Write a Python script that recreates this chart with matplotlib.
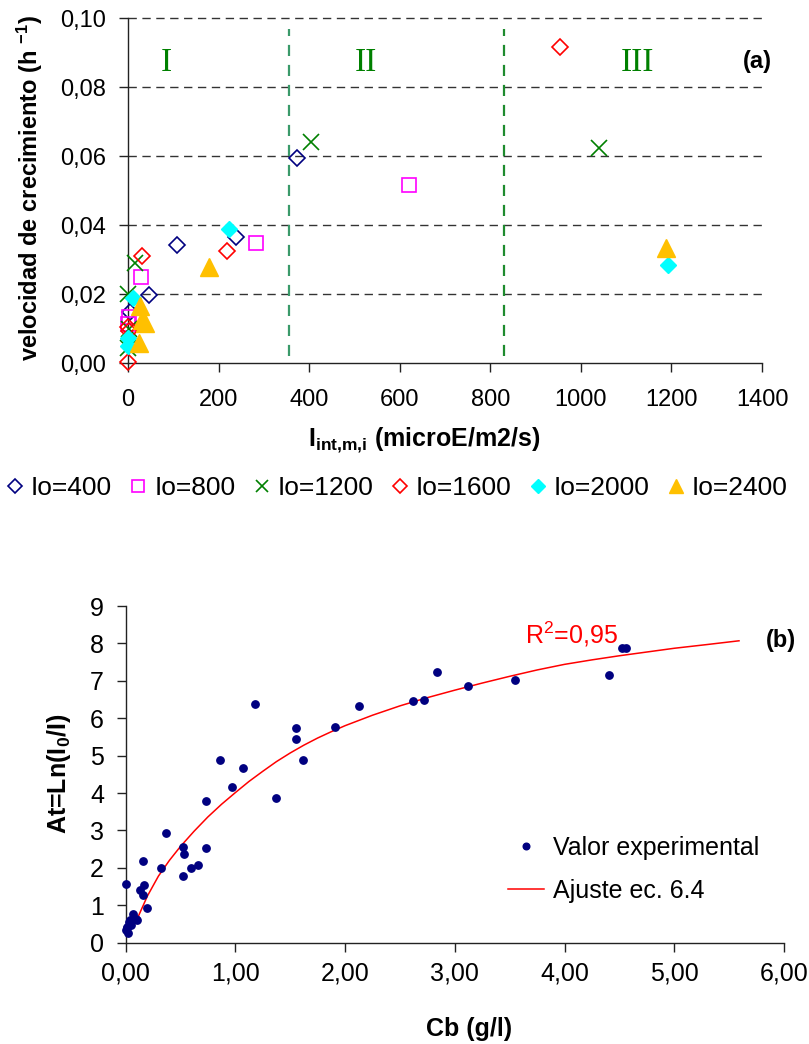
import matplotlib
matplotlib.use('Agg')
import matplotlib.pyplot as plt
from matplotlib.ticker import FuncFormatter, MultipleLocator

plt.rcParams['font.family'] = ['Liberation Sans', 'DejaVu Sans']
plt.rcParams['mathtext.fontset'] = 'custom'
plt.rcParams['mathtext.rm'] = 'Liberation Sans'
plt.rcParams['mathtext.bf'] = 'Liberation Sans:bold'
plt.rcParams['mathtext.it'] = 'Liberation Sans:italic'

# ---------------- data: chart (a) ----------------
io_labels = ['Io=400', 'Io=800', 'Io=1200', 'Io=1600', 'Io=2000', 'Io=2400']
i400_x = [5, 46, 109, 238, 373]
i400_y = [0.0150, 0.0198, 0.0343, 0.0367, 0.0595]
i800_x = [2, 1, 29, 283, 621]
i800_y = [0.0135, 0.0115, 0.0250, 0.0350, 0.0517]
i1200_x = [0, 16, 2, 0, 404, 1041]
i1200_y = [0.0202, 0.0290, 0.0100, 0.0045, 0.0641, 0.0625]
i1600_x = [1, 3, 0, 30, 219, 953]
i1600_y = [0.0105, 0.0095, 0.0005, 0.0312, 0.0325, 0.0918]
i2000_x = [1, 1, 12, 222, 1192]
i2000_y = [0.0073, 0.0050, 0.0190, 0.0388, 0.0285]
i2400_x = [27, 38, 30, 24, 178, 1188]
i2400_y = [0.0165, 0.0118, 0.0125, 0.0060, 0.0280, 0.0335]
region_bounds = [355, 830]
region_labels = ['I', 'II', 'III']
region_label_x = [85, 525, 1124]

# ---------------- data: chart (b) ----------------
cb = [0.003, 0.005, 0.012, 0.015, 0.024, 0.03, 0.04, 0.052, 0.07, 0.10, 0.107,
      0.131, 0.161, 0.161, 0.173, 0.198, 0.32, 0.371, 0.52, 0.52, 0.533, 0.597,
      0.66, 0.737, 0.737, 0.858, 0.971, 1.07, 1.18, 1.37, 1.556, 1.556, 1.62,
      1.909, 2.13, 2.62, 2.72, 2.834, 3.12, 3.546, 4.41, 4.52, 4.56]
at = [0.34, 1.57, 0.40, 0.43, 0.25, 0.56, 0.62, 0.46, 0.76, 0.63, 0.60,
      1.41, 2.19, 1.27, 1.53, 0.93, 2.00, 2.92, 2.56, 1.78, 2.37, 2.00,
      2.07, 3.80, 2.54, 4.88, 4.17, 4.67, 6.37, 3.88, 5.74, 5.44, 4.88,
      5.77, 6.33, 6.46, 6.50, 7.23, 6.86, 7.01, 7.15, 7.89, 7.89]
fit_x = [0.116, 0.2, 0.3, 0.4, 0.5, 0.625, 0.75, 0.875, 1.0, 1.125, 1.25, 1.375,
         1.5, 1.625, 1.75, 1.875, 2.0, 2.25, 2.5, 2.75, 3.0, 3.25, 3.5, 3.75,
         4.0, 4.25, 4.5, 4.75, 5.0, 5.3, 5.59]
fit_y = [0.70, 1.25, 1.78, 2.20, 2.57, 2.98, 3.36, 3.70, 4.01, 4.31, 4.58, 4.84,
         5.07, 5.28, 5.47, 5.64, 5.80, 6.08, 6.33, 6.55, 6.75, 6.94, 7.12, 7.29,
         7.44, 7.56, 7.67, 7.77, 7.87, 7.97, 8.07]

fig = plt.figure(figsize=(8.09, 10.44), dpi=100)
W, H = 809.0, 1044.0

# ================= chart (a) =================
ax1 = fig.add_axes([128 / W, 1 - 363.3 / H, (762 - 128) / W, (363.3 - 18.3) / H])
ax1.set_xlim(0, 1400)
ax1.set_ylim(0, 0.10)
for s in ['top', 'right']:
    ax1.spines[s].set_visible(False)
for s in ['left', 'bottom']:
    ax1.spines[s].set_color('#222222')
    ax1.spines[s].set_linewidth(1)

for yv in [0.02, 0.04, 0.06, 0.08, 0.10]:
    ax1.axhline(yv, color='#333333', lw=1, ls=(0, (6, 4)), zorder=1, clip_on=False)
ax1.vlines(region_bounds, 0.002, 0.097, colors=['#3A9A6A', '#1E8B2E'],
           lw=1.6, linestyles=[(0, (5, 4))], zorder=1)
for lab, xv in zip(region_labels, region_label_x):
    ax1.text(xv, 0.0870, lab, color='#008000', fontsize=24, ha='center', va='center',
             family=['Liberation Serif'])
ax1.text(1.016, 0.0874, '(a)', transform=ax1.get_yaxis_transform(), ha='right',
         va='center', fontsize=17, fontweight='bold')

common = dict(ls='none', clip_on=False, zorder=3)
h1, = ax1.plot(i400_x, i400_y, marker='D', ms=8, mfc='none', mec='#000080', mew=1.2,
               label=io_labels[0], **common)
h2, = ax1.plot(i800_x, i800_y, marker='s', ms=10, mfc='none', mec='#FF00FF', mew=1.2,
               label=io_labels[1], **common)
h3, = ax1.plot(i1200_x, i1200_y, marker='x', ms=11, mec='#008000', mew=1.2,
               label=io_labels[2], **common)
h4, = ax1.plot(i1600_x, i1600_y, marker='D', ms=8, mfc='none', mec='#FF0000', mew=1.2,
               label=io_labels[3], **common)
h5, = ax1.plot(i2000_x, i2000_y, marker='D', ms=8.5, mfc='#00FFFF', mec='#00FFFF', mew=1,
               label=io_labels[4], **common)
h6, = ax1.plot(i2400_x, i2400_y, marker='^', ms=12.5, mfc='#FFC000', mec='#FFC000', mew=1,
               label=io_labels[5], **common)

ax1.xaxis.set_major_locator(MultipleLocator(200))
ax1.yaxis.set_major_locator(MultipleLocator(0.02))
ax1.yaxis.set_major_formatter(FuncFormatter(lambda v, p: f'{v:.2f}'.replace('.', ',')))
ax1.xaxis.set_major_formatter(FuncFormatter(lambda v, p: f'{v:.0f}'))
ax1.tick_params(axis='both', direction='out', length=6.5, width=1, labelsize=17,
                color='#222222')
ax1.tick_params(axis='x', pad=12)
ax1.tick_params(axis='y', pad=9)

fig.text(424 / W, 1 - 440 / H, r'$\mathbf{I}_{\mathbf{int{,}m{,}i}}$ (microE/m2/s)',
         ha='center', va='center', fontsize=18, fontweight='bold')
fig.text(30 / W, 1 - 188 / H, r'velocidad de crecimiento (h $^{\mathbf{-1}}$)',
         ha='center', va='center', rotation=90, fontsize=17, fontweight='bold')

fig.legend(handles=[h1, h2, h3, h4, h5, h6], loc='center',
           bbox_to_anchor=(0.492, 1 - 488 / H), ncol=6, frameon=False, fontsize=19,
           handlelength=0.5, handletextpad=0.35, columnspacing=0.75, borderpad=0,
           markerscale=0.85)

# ================= chart (b) =================
ax2 = fig.add_axes([125.5 / W, 1 - 942.7 / H, (784 - 125.5) / W, (942.7 - 606) / H])
ax2.set_xlim(0, 6)
ax2.set_ylim(0, 9)
for s in ['top', 'right']:
    ax2.spines[s].set_visible(False)
for s in ['left', 'bottom']:
    ax2.spines[s].set_color('#222222')
    ax2.spines[s].set_linewidth(1)

ax2.plot(cb, at, ls='none', marker='o', ms=5.3, mfc='#000080', mec='#000080',
         label='Valor experimental', clip_on=False, zorder=3)
ax2.plot(fit_x, fit_y, color='#FF0000', lw=1.1, label='Ajuste ec. 6.4', zorder=2)

ax2.xaxis.set_major_locator(MultipleLocator(1))
ax2.yaxis.set_major_locator(MultipleLocator(1))
ax2.xaxis.set_major_formatter(FuncFormatter(lambda v, p: f'{v:.2f}'.replace('.', ',')))
ax2.yaxis.set_major_formatter(FuncFormatter(lambda v, p: f'{v:.0f}'))
ax2.tick_params(axis='both', direction='out', length=6.5, width=1, labelsize=18,
                color='#222222')
ax2.tick_params(axis='x', pad=7)
ax2.tick_params(axis='y', pad=9)

ax2.text(3.64, 8.01, r'R$^2$=0,95', color='#FF0000', fontsize=18, ha='left',
         va='baseline')
ax2.text(5.97, 8.08, '(b)', fontsize=17, fontweight='bold', ha='center', va='center')

ax2.legend(loc='upper left', bbox_to_anchor=(508 / W, 1 - 836 / H),
           bbox_transform=fig.transFigure, frameon=False, fontsize=18,
           handlelength=1.45, handletextpad=0.35, labelspacing=0.75, borderpad=0,
           borderaxespad=0, markerscale=0.9)

fig.text(469 / W, 1 - 1029 / H, 'Cb (g/l)', ha='center', va='center', fontsize=18,
         fontweight='bold')
fig.text(59 / W, 1 - 774 / H, r'At=Ln(I$_{\mathbf{0}}$/I)', ha='center', va='center',
         rotation=90, fontsize=18, fontweight='bold')

fig.savefig('out.png', dpi=100)
